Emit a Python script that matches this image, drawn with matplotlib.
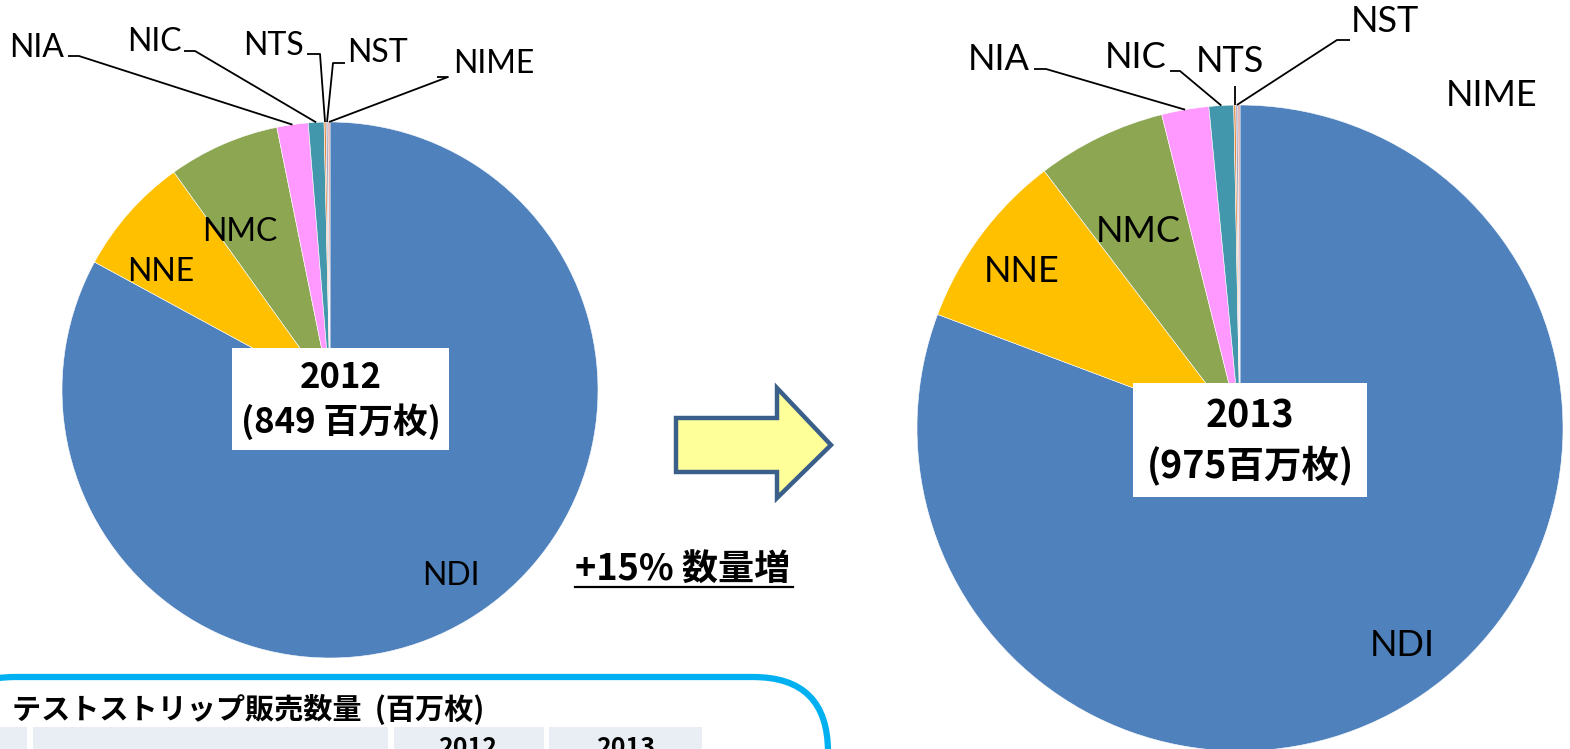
import matplotlib
matplotlib.use("Agg")
import matplotlib.pyplot as plt
from matplotlib.patches import Rectangle, Polygon, FancyBboxPatch
import numpy as np

W, H = 1570, 749

# data (millions of strips)
makers = ["NDI", "NNE", "NMC", "NIA", "NIC", "NTS", "NST", "NIME"]
sales_2012 = [704, 61, 57, 16, 8, 1, 1, 1]
sales_2013 = [787, 87, 63, 23, 12, 1, 1, 1]
colors = ["#4F81BD", "#FFC000", "#8CA652", "#FF99FF", "#4397AD",
          "#E3863C", "#A8A8C4", "#D9A0A0"]
total_2012 = 849
total_2013 = 975
growth = "+15% 数量増"
table_title = "テストストリップ販売数量  (百万枚)"
table_years = ["2012", "2013"]

CJK = ["Noto Sans CJK JP", "DejaVu Sans"]
LAT = ["Lato", "DejaVu Sans"]


def Y(y):
    return H - y


fig = plt.figure(figsize=(W / 100, H / 100), dpi=100)
ax = fig.add_axes([0, 0, 1, 1])


def draw_pie(values, cx, cy, r, inside, outside, fs):
    wedges, _ = ax.pie(values, colors=colors, startangle=90, counterclock=False,
                       center=(cx, Y(cy)), radius=r, frame=True,
                       wedgeprops=dict(edgecolor="white", linewidth=0.4))
    for name, (tx, ty) in inside.items():
        ax.text(tx, Y(ty), name, fontsize=fs, family=LAT,
                ha="center", va="center")
    for name, (tx, ty, path) in outside.items():
        ax.text(tx, Y(ty), name, fontsize=fs, family=LAT,
                ha="center", va="center")
        if path is None:
            continue
        w = wedges[makers.index(name)]
        mid = np.deg2rad((w.theta1 + w.theta2) / 2)
        ex, ey = cx + r * np.cos(mid), Y(cy) + r * np.sin(mid)
        xs = [p[0] for p in path] + [ex]
        ys = [Y(p[1]) for p in path] + [ey]
        if len(path) == 1:
            xs[0] = ex
        ax.plot(xs, ys, color="black", lw=1.3, solid_capstyle="butt")


# 2012 pie
draw_pie(sales_2012, 330, 390, 268,
         {"NDI": (451, 576), "NNE": (161, 272), "NMC": (240, 232)},
         {"NIA": (37, 48, [(68, 56), (79, 56)]),
          "NIC": (154, 42, [(184, 51), (195, 51)]),
          "NTS": (274, 46, [(307, 54), (320, 54)]),
          "NST": (377, 53, [(345, 63), (333, 63)]),
          "NIME": (494, 64, [(437, 77), (448, 77)])},
         23)

# 2013 pie
draw_pie(sales_2013, 1240, 428, 323,
         {"NDI": (1402, 645), "NNE": (1022, 272), "NMC": (1138, 232)},
         {"NIA": (999, 59, [(1034, 69), (1046, 69)]),
          "NIC": (1136, 58, [(1170, 71), (1180, 71)]),
          "NTS": (1230, 62, [(1233, 86)]),
          "NST": (1385, 22, [(1350, 40), (1337, 40)]),
          "NIME": (1492, 96, None)},
         26)

# year boxes
for (x0, y0, x1, y1), year, tot, sep, fs in [((232, 348, 449, 450), "2012", total_2012, " ", 25),
                                            ((1133, 383, 1367, 497), "2013", total_2013, "", 27)]:
    ax.add_patch(Rectangle((x0, Y(y1)), x1 - x0, y1 - y0, facecolor="white",
                           edgecolor="none", zorder=3))
    xm = (x0 + x1) / 2
    h = y1 - y0
    ax.text(xm, Y(y0 + h * 0.29), year, fontsize=fs, fontweight="bold",
            family=CJK, ha="center", va="center", zorder=4)
    ax.text(xm, Y(y0 + h * 0.72), "(%d%s百万枚)" % (tot, sep), fontsize=fs,
            fontweight="bold", family=CJK, ha="center", va="center", zorder=4)

# arrow
arrow = [(676, 418), (777, 418), (777, 388), (831, 445), (777, 498),
         (777, 472), (676, 472)]
ax.add_patch(Polygon([(x, Y(y)) for x, y in arrow], closed=True,
                     facecolor="#FFFF99", edgecolor="#3A5F8B", linewidth=3.2))

# growth text
ax.text(575, Y(569), growth, fontsize=26, fontweight="bold", family=CJK,
        ha="left", va="center")
ax.plot([575, 793], [Y(587), Y(587)], color="black", lw=1.6)

# table panel at bottom
ax.add_patch(FancyBboxPatch((-60, Y(860)), 888, 860 - 677,
                            boxstyle="round,pad=0,rounding_size=75",
                            facecolor="white", edgecolor="#00B0F0",
                            linewidth=4.5))
ax.text(12, Y(709), table_title, fontsize=21, fontweight="bold", family=CJK,
        ha="left", va="center")
for x0, x1 in [(0, 27), (33, 388), (394, 544), (549, 702)]:
    ax.add_patch(Rectangle((x0, Y(760)), x1 - x0, 760 - 727,
                           facecolor="#E9EDF4", edgecolor="none"))
for xc, yr in zip([468, 626], table_years):
    ax.text(xc, Y(736), yr, fontsize=18, fontweight="bold", family=CJK,
            ha="center", va="top")

ax.set_xlim(0, W)
ax.set_ylim(0, H)
ax.set_axis_off()

fig.savefig("out.png", dpi=100)
